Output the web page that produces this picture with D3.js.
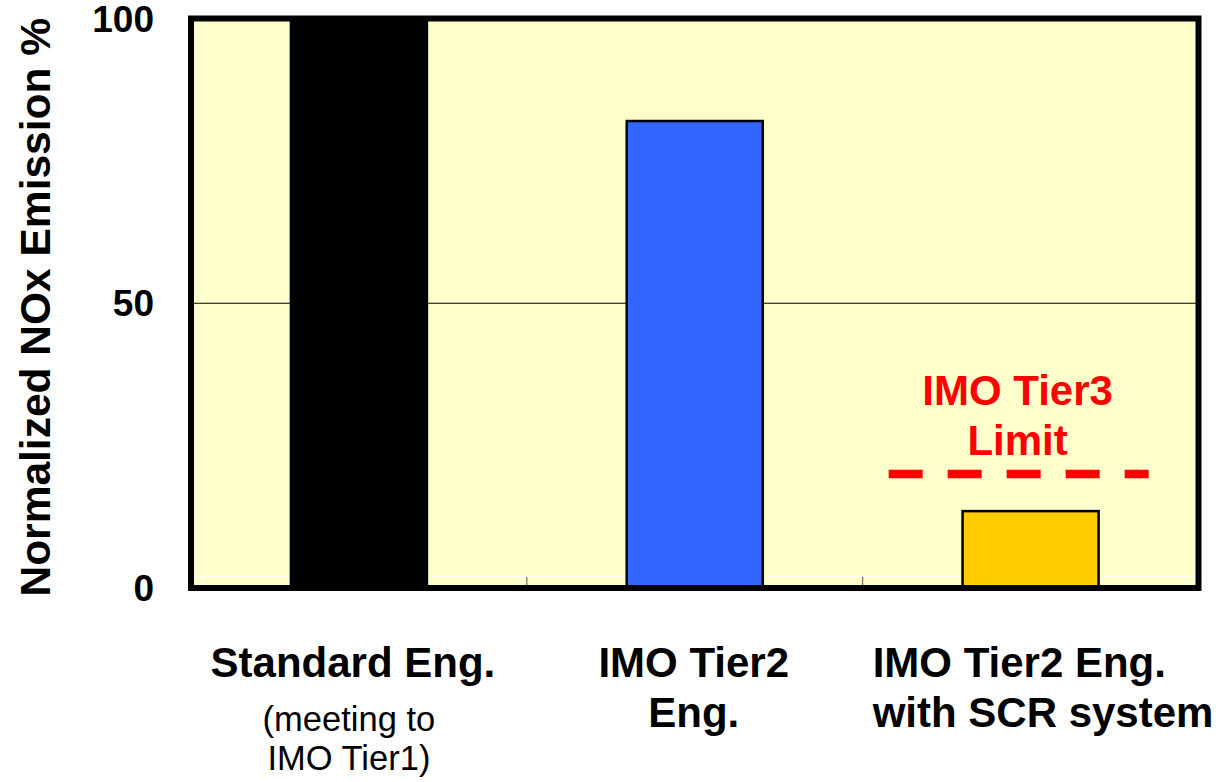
<!DOCTYPE html>
<html>
<head>
<meta charset="utf-8">
<script src="https://cdn.jsdelivr.net/npm/d3@7/dist/d3.min.js"></script>
<style>
  html, body { margin: 0; padding: 0; background: #ffffff; }
  svg { display: block; }
  text { font-family: "Liberation Sans", Arial, sans-serif; }
</style>
</head>
<body>
<script>
// Normalized NOx emission by engine type
const categories = ["Standard Eng.", "IMO Tier2 Eng.", "IMO Tier2 Eng. with SCR system"];
const values = [100, 82, 13.5];
const barColors = ["#000000", "#3366ff", "#ffcc00"];
const yTicks = [0, 50, 100];
const tier3Limit = 20;
const yTitle = "Normalized NOx Emission %";

const W = 1222, H = 782;
const plot = { left: 191, right: 1198.5, top: 18.5, bottom: 588 };

const svg = d3.select("body").append("svg")
  .attr("width", W).attr("height", H);

const x = d3.scaleBand()
  .domain(categories)
  .range([plot.left, plot.right])
  .paddingInner(0.595)
  .paddingOuter(0.2975);

const band = d3.scaleBand().domain(categories).range([plot.left, plot.right]);

const y = d3.scaleLinear().domain([0, 100]).range([plot.bottom, plot.top]);

// plot background
svg.append("rect")
  .attr("x", plot.left).attr("y", plot.top)
  .attr("width", plot.right - plot.left).attr("height", plot.bottom - plot.top)
  .attr("fill", "#ffffcc");

// gridlines
svg.append("g")
  .selectAll("line")
  .data(yTicks.filter(d => d > 0 && d < 100))
  .join("line")
  .attr("x1", plot.left).attr("x2", plot.right)
  .attr("y1", d => y(d)).attr("y2", d => y(d))
  .attr("stroke", "#000").attr("stroke-width", 1);

// light baseline rule and category separators
svg.append("line")
  .attr("x1", plot.left).attr("x2", plot.right)
  .attr("y1", plot.bottom - 11.5).attr("y2", plot.bottom - 11.5)
  .attr("stroke", "#ffffff").attr("stroke-width", 1);
svg.append("g")
  .selectAll("line")
  .data(categories.slice(1))
  .join("line")
  .attr("x1", d => band(d)).attr("x2", d => band(d))
  .attr("y1", plot.bottom - 11).attr("y2", plot.bottom - 3)
  .attr("stroke", "#555").attr("stroke-width", 1);

// bars
svg.append("g")
  .selectAll("rect")
  .data(categories)
  .join("rect")
  .attr("x", d => x(d))
  .attr("y", (d, i) => y(values[i]))
  .attr("width", x.bandwidth())
  .attr("height", (d, i) => y(0) - y(values[i]))
  .attr("fill", (d, i) => barColors[i])
  .attr("stroke", "#000").attr("stroke-width", 2.5);

// Tier3 limit line
const limitCat = categories[2];
svg.append("line")
  .attr("x1", band(limitCat) + 26).attr("x2", band(limitCat) + 286)
  .attr("y1", y(tier3Limit)).attr("y2", y(tier3Limit))
  .attr("stroke", "#ff0000").attr("stroke-width", 8.5)
  .attr("stroke-dasharray", "34 25");

const limitX = x(limitCat) + x.bandwidth() / 2 - 13;
svg.append("text")
  .attr("y", 405)
  .attr("text-anchor", "middle")
  .attr("fill", "#ff0000")
  .attr("font-weight", "bold")
  .attr("font-size", 42)
  .selectAll("tspan")
  .data(["IMO Tier3", "Limit"])
  .join("tspan")
  .attr("x", limitX)
  .attr("dy", (d, i) => i === 0 ? 0 : 50)
  .text(d => d);

// frame
svg.append("rect")
  .attr("x", plot.left).attr("y", plot.top)
  .attr("width", plot.right - plot.left).attr("height", plot.bottom - plot.top)
  .attr("fill", "none")
  .attr("stroke", "#000").attr("stroke-width", 6);

// y tick labels
svg.append("g")
  .selectAll("text")
  .data(yTicks)
  .join("text")
  .attr("x", 154)
  .attr("y", d => y(d) + 13)
  .attr("text-anchor", "end")
  .attr("font-weight", "bold")
  .attr("font-size", 37)
  .text(d => d);

// y axis title
svg.append("text")
  .attr("transform", `translate(50, ${(plot.top + plot.bottom) / 2 + 4}) rotate(-90)`)
  .attr("text-anchor", "middle")
  .attr("font-weight", "bold")
  .attr("font-size", 42.5)
  .text(yTitle);

// category labels
const catLabels = [
  { lines: ["Standard Eng."], sub: ["(meeting to", "IMO Tier1)"], anchor: "middle", dx: -6 },
  { lines: ["IMO Tier2", "Eng."], sub: [], anchor: "middle", dx: -1 },
  { lines: ["IMO Tier2 Eng.", "with SCR system"], sub: [], anchor: "start", dx: null }
];

catLabels.forEach((lab, i) => {
  const cx = x(categories[i]) + x.bandwidth() / 2;
  const tx = lab.anchor === "start" ? band(categories[i]) + 10 : cx + lab.dx;
  const g = svg.append("g");
  g.append("text")
    .attr("y", 677)
    .attr("text-anchor", lab.anchor)
    .attr("font-weight", "bold")
    .attr("font-size", 42)
    .selectAll("tspan")
    .data(lab.lines)
    .join("tspan")
    .attr("x", tx)
    .attr("dy", (d, j) => j === 0 ? 0 : 50)
    .text(d => d);
  if (lab.sub.length) {
    lab.sub.forEach((s, j) => {
      g.append("text")
        .attr("x", tx - 4)
        .attr("y", 731 + j * 39)
        .attr("text-anchor", "middle")
        .attr("font-size", 34.5)
        .text(s);
    });
  }
});
</script>
</body>
</html>
